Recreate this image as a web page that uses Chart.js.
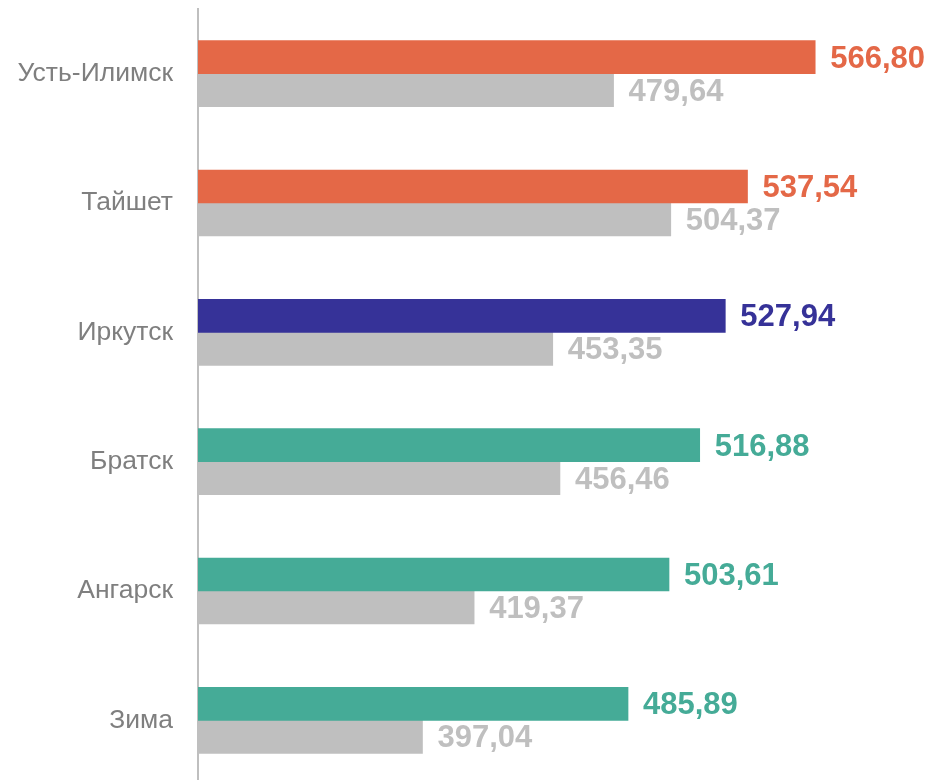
<!DOCTYPE html>
<html>
<head>
<meta charset="utf-8">
<script src="https://cdn.jsdelivr.net/npm/chart.js@4.4.1/dist/chart.umd.min.js"></script>
<style>
  html, body { margin: 0; padding: 0; background: #ffffff; overflow: hidden; }
  #wrap { position: absolute; left: 0; top: 0; width: 933px; height: 785px; }
</style>
</head>
<body>
<div id="wrap"><canvas id="c" width="933" height="785"></canvas></div>
<script>
const categories = ['Усть-Илимск', 'Тайшет', 'Иркутск', 'Братск', 'Ангарск', 'Зима'];
const currentValues = [566.80, 537.54, 527.94, 516.88, 503.61, 485.89];
const previousValues = [479.64, 504.37, 453.35, 456.46, 419.37, 397.04];
const currentColors = ['#E46847', '#E46847', '#363298', '#45AB97', '#45AB97', '#45AB97'];
const previousColor = '#BFBFBF';
const axisMin = 300;
const axisMax = 600;

const fmt = v => v.toFixed(2).replace('.', ',');

const valueLabels = {
  id: 'valueLabels',
  afterDatasetsDraw(chart) {
    const ctx = chart.ctx;
    ctx.save();
    ctx.font = 'bold 31px "Liberation Sans", Arial, sans-serif';
    ctx.textAlign = 'left';
    ctx.textBaseline = 'middle';
    chart.data.datasets.forEach((ds, di) => {
      const meta = chart.getDatasetMeta(di);
      meta.data.forEach((el, i) => {
        const c = Array.isArray(ds.backgroundColor) ? ds.backgroundColor[i] : ds.backgroundColor;
        ctx.fillStyle = c;
        ctx.fillText(fmt(ds.data[i]), el.x + 15, el.y + 2);
      });
    });
    ctx.restore();
  }
};

new Chart(document.getElementById('c'), {
  type: 'bar',
  data: {
    labels: categories,
    datasets: [
      { label: 'current', data: currentValues, backgroundColor: currentColors, barThickness: 33 },
      { label: 'previous', data: previousValues, backgroundColor: previousColor, barThickness: 33 }
    ]
  },
  options: {
    indexAxis: 'y',
    responsive: false,
    animation: false,
    layout: { padding: { top: 9, right: 41, left: 0, bottom: 0 } },
    plugins: { legend: { display: false }, tooltip: { enabled: false } },
    scales: {
      x: { display: false, min: axisMin, max: axisMax },
      y: {
        grid: { display: false, drawTicks: false },
        border: { display: true, color: '#BFBFBF', width: 2 },
        ticks: {
          color: '#7F7F7F',
          padding: 25,
          font: { family: '"Liberation Sans", Arial, sans-serif', size: 26.5 }
        },
        afterFit(scale) {
          scale.width = 198;
          scale.paddingTop = 0;
          scale.paddingBottom = 0;
        }
      }
    }
  },
  plugins: [valueLabels]
});
</script>
</body>
</html>
